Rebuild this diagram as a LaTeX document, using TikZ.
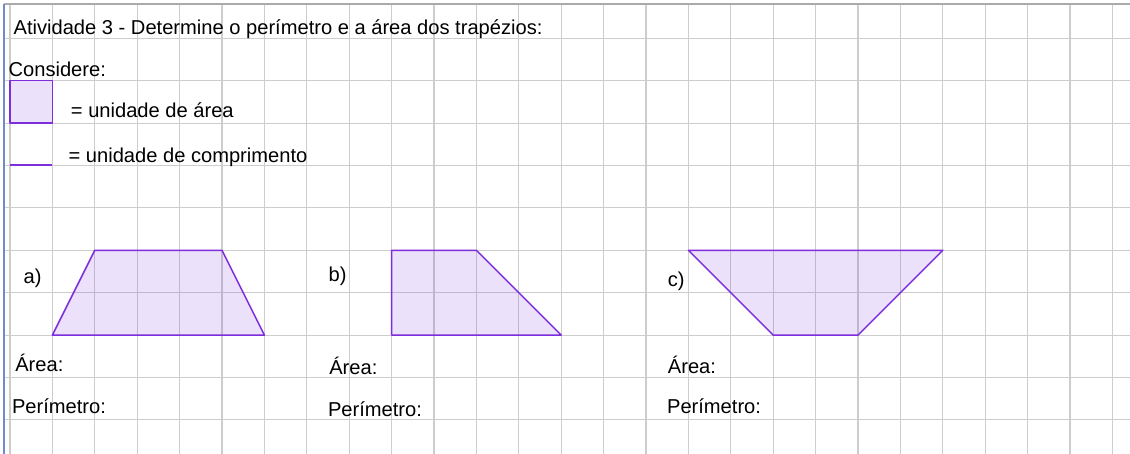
\documentclass[tikz,border=0pt]{standalone}
\usepackage{fontspec}
\setmainfont{Liberation Sans}
\usetikzlibrary{positioning}
\definecolor{gridgray}{RGB}{205,205,205}
\definecolor{framegray}{RGB}{170,170,170}
\definecolor{leftblue}{RGB}{110,140,205}
\definecolor{trapline}{RGB}{125,45,220}

\begin{document}
\begin{tikzpicture}[
        y=-1cm,
        gridline/.style={draw=gridgray, line width=0.7pt},
        trap/.style={draw=trapline, fill=trapline, fill opacity=0.14, line width=1pt, line join=round},
        txt/.style={anchor=base west, inner sep=0pt, font=\fontsize{13.5}{16}\selectfont}
    ]
        \useasboundingbox (-0.236,-0.903) rectangle (26.415,9.804);
        \fill[white] (-0.236,-0.903) rectangle (26.415,9.804);

        % grid
        \foreach \u in {0,...,26}
            \draw[gridline] (\u,-0.81) -- (\u,9.804);
        \foreach \v in {0,...,9}
            \draw[gridline] (-0.14,\v) -- (26.415,\v);
        \draw[draw=framegray, line width=0.8pt] (-0.14,-0.81) -- (26.415,-0.81);
        \draw[draw=leftblue, line width=0.8pt] (-0.14,-0.81) -- (-0.14,9.804);

        % title and legend
        \node[txt] (TITLE) at (0.078,-0.094) {Atividade 3 - Determine o perímetro e a área dos trapézios:};
        \node[txt] (CONS) at (-0.04,0.906) {Considere:};
        \draw[trap] (0,1) rectangle (1,2);
        \node[txt] (UAREA) at (1.43,1.863) {= unidade de área};
        \draw[draw=trapline, line width=1.3pt] (0,2.98) -- (1,2.98);
        \node[txt] (ULEN) at (1.375,2.925) {= unidade de comprimento};

        % trapezoids
        \draw[trap] (1,7) -- (6,7) -- (5,5) -- (2,5) -- cycle;
        \draw[trap] (9,5) -- (11,5) -- (13,7) -- (9,7) -- cycle;
        \draw[trap] (16,5) -- (22,5) -- (20,7) -- (18,7) -- cycle;

        % labels
        \node[txt] (LA) at (0.314,5.778) {a)};
        \node[txt] (AREAA) at (0.118,7.863) {Área:};
        \node[txt] (PERA) at (0.04,8.844) {Perímetro:};
        \node[txt] (LB) at (7.507,5.741) {b)};
        \node[txt] (AREAB) at (7.524,7.941) {Área:};
        \node[txt] (PERB) at (7.493,8.925) {Perímetro:};
        \node[txt] (LC) at (15.51,5.858) {c)};
        \node[txt] (AREAC) at (15.51,7.901) {Área:};
        \node[txt] (PERC) at (15.49,8.844) {Perímetro:};
    \end{tikzpicture}
\end{document}
